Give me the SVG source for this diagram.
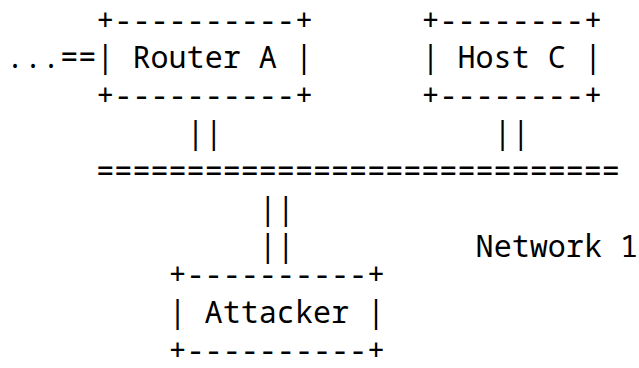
<svg xmlns="http://www.w3.org/2000/svg" width="639" height="368" viewBox="0 0 639 368">
  <style>
    text { font-family: "Noto Sans Mono", "DejaVu Sans Mono", monospace; font-size: 30.1px; fill: #000; white-space: pre; }
  </style>
  <rect width="639" height="368" fill="#fff"/>
  <!-- column c sits at x = 6 + c*18.06; row r baseline at 30.5 + r*37.8 -->
  <g id="router-a">
    <text x="96.3" y="30.5">+----------+</text>
    <text x="96.3" y="68.3">| Router A |</text>
    <text x="96.3" y="106.1">+----------+</text>
  </g>
  <g id="host-c">
    <text x="421.4" y="30.5">+--------+</text>
    <text x="421.4" y="68.3">| Host C |</text>
    <text x="421.4" y="106.1">+--------+</text>
  </g>
  <g id="attacker">
    <text x="168.5" y="285.3">+----------+</text>
    <text x="168.5" y="323.1">| Attacker |</text>
    <text x="168.5" y="360.9">+----------+</text>
  </g>
  <g id="connectors">
    <text x="6" y="68.3">...==</text>
    <text x="186.6" y="143.9">||</text>
    <text x="493.6" y="143.9">||</text>
    <text x="96.3" y="181.7">=============================</text>
    <text x="258.8" y="219.5">||<tspan x="258.8" dy="37.8">||</tspan></text>
  </g>
  <g id="network-1">
    <text x="475.6" y="257.3">Network 1</text>
  </g>
</svg>
